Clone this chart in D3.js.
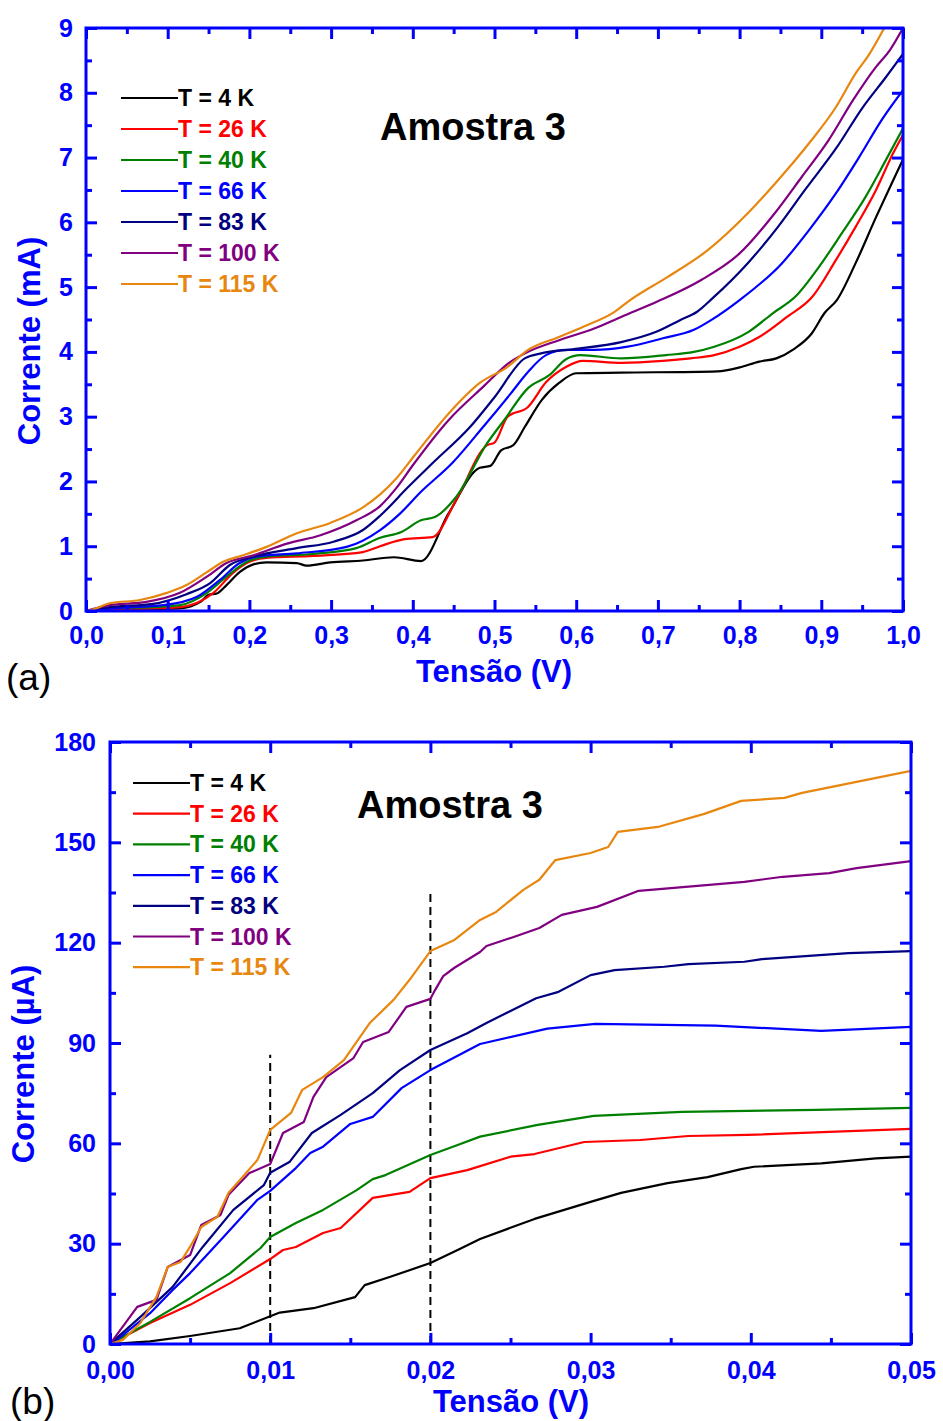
<!DOCTYPE html>
<html><head><meta charset="utf-8">
<script src="https://cdn.jsdelivr.net/npm/d3@7"></script>
<style>
body{margin:0;background:#fff}
svg{display:block}
text{font-family:"Liberation Sans",Arial,Helvetica,sans-serif}
</style>
</head><body>
<svg id="chart" width="943" height="1421"></svg>
<script>
// ---------------- DATA ----------------
const seriesLabels = ["T = 4 K","T = 26 K","T = 40 K","T = 66 K","T = 83 K","T = 100 K","T = 115 K"];
const seriesColors = ["#000000","#ff0000","#008000","#0000ff","#000080","#800080","#e8870f"];

// Panel (a): [Tensão (V), Corrente (mA)]
const a4K = [[0,0],[0.02,0.01],[0.06,0.02],[0.115,0.04],[0.14,0.14],[0.15,0.25],[0.16,0.27],[0.172,0.40],[0.188,0.6],[0.205,0.72],[0.221,0.75],[0.258,0.74],[0.27,0.70],[0.299,0.75],[0.339,0.78],[0.377,0.83],[0.41,0.77],[0.444,1.51],[0.482,2.21],[0.495,2.24],[0.508,2.48],[0.523,2.56],[0.537,2.84],[0.558,3.26],[0.579,3.52],[0.60,3.67],[0.655,3.68],[0.773,3.70],[0.80,3.76],[0.824,3.85],[0.845,3.90],[0.866,4.04],[0.888,4.28],[0.904,4.6],[0.919,4.8],[0.942,5.37],[0.967,6.08],[0.988,6.65],[1.0,6.97]];
const a26K = [[0,0],[0.03,0.03],[0.08,0.04],[0.115,0.06],[0.156,0.28],[0.18,0.59],[0.2,0.76],[0.221,0.82],[0.278,0.85],[0.339,0.91],[0.36,1.0],[0.39,1.11],[0.424,1.14],[0.453,1.71],[0.491,2.56],[0.50,2.6],[0.516,3.0],[0.541,3.15],[0.563,3.53],[0.588,3.77],[0.608,3.86],[0.655,3.83],[0.706,3.86],[0.74,3.9],[0.769,3.95],[0.80,4.08],[0.824,4.23],[0.858,4.54],[0.889,4.85],[0.918,5.42],[0.942,5.93],[0.967,6.5],[0.988,7.07],[1.0,7.35]];
const a40K = [[0,0],[0.03,0.04],[0.08,0.06],[0.115,0.09],[0.148,0.28],[0.172,0.53],[0.197,0.76],[0.221,0.84],[0.278,0.88],[0.331,0.97],[0.36,1.13],[0.386,1.22],[0.41,1.4],[0.427,1.45],[0.453,1.76],[0.491,2.59],[0.512,2.95],[0.541,3.44],[0.567,3.64],[0.588,3.89],[0.605,3.95],[0.655,3.9],[0.71,3.95],[0.744,4.0],[0.769,4.08],[0.811,4.31],[0.841,4.6],[0.868,4.85],[0.897,5.31],[0.925,5.83],[0.954,6.39],[0.979,6.96],[1.0,7.45]];
const a66K = [[0,0],[0.029,0.04],[0.095,0.09],[0.136,0.22],[0.164,0.48],[0.188,0.74],[0.209,0.84],[0.258,0.89],[0.319,0.99],[0.36,1.25],[0.384,1.5],[0.41,1.84],[0.448,2.28],[0.486,2.84],[0.52,3.36],[0.541,3.69],[0.563,3.95],[0.588,4.03],[0.622,4.03],[0.663,4.08],[0.706,4.21],[0.744,4.34],[0.765,4.49],[0.80,4.8],[0.852,5.37],[0.885,5.88],[0.918,6.45],[0.946,7.0],[0.975,7.6],[1.0,8.04]];
const a83K = [[0,0],[0.029,0.06],[0.082,0.11],[0.123,0.26],[0.152,0.43],[0.176,0.71],[0.205,0.84],[0.258,0.97],[0.303,1.07],[0.339,1.25],[0.36,1.47],[0.394,1.91],[0.424,2.28],[0.47,2.84],[0.50,3.3],[0.537,3.9],[0.558,3.98],[0.596,4.04],[0.655,4.15],[0.698,4.31],[0.727,4.49],[0.748,4.62],[0.767,4.83],[0.81,5.37],[0.847,5.93],[0.88,6.5],[0.918,7.14],[0.951,7.78],[0.979,8.24],[1.0,8.6]];
const a100K = [[0,0],[0.029,0.09],[0.074,0.14],[0.115,0.28],[0.148,0.53],[0.172,0.74],[0.205,0.86],[0.246,1.04],[0.287,1.17],[0.331,1.4],[0.36,1.62],[0.38,1.9],[0.40,2.25],[0.444,2.95],[0.486,3.46],[0.52,3.85],[0.541,4.0],[0.579,4.18],[0.622,4.36],[0.655,4.54],[0.70,4.78],[0.753,5.11],[0.80,5.52],[0.843,6.14],[0.876,6.70],[0.909,7.27],[0.939,7.89],[0.967,8.4],[0.984,8.66],[1.0,9.0]];
const a115K = [[0,0],[0.005,0.01],[0.029,0.12],[0.066,0.17],[0.099,0.28],[0.123,0.40],[0.148,0.6],[0.168,0.76],[0.192,0.86],[0.221,0.99],[0.258,1.2],[0.299,1.36],[0.339,1.6],[0.36,1.8],[0.38,2.05],[0.402,2.4],[0.444,3.05],[0.482,3.52],[0.516,3.77],[0.541,4.03],[0.579,4.23],[0.613,4.41],[0.646,4.61],[0.666,4.8],[0.711,5.15],[0.761,5.57],[0.81,6.14],[0.847,6.65],[0.885,7.22],[0.918,7.78],[0.942,8.3],[0.958,8.58],[0.977,9.0]];

// Panel (b): [Tensão (V), Corrente (µA)]
const b4K = [[0,0],[0.0025,0.8],[0.005,2.4],[0.0081,4.7],[0.010,8.3],[0.0106,9.4],[0.0127,10.7],[0.0153,14.0],[0.0159,17.6],[0.0175,20.1],[0.020,24.2],[0.0217,28.1],[0.0231,31.4],[0.0265,37.4],[0.030,42.5],[0.0319,45.2],[0.0348,48.1],[0.0373,49.9],[0.0394,52.3],[0.0402,53.0],[0.0444,54.0],[0.0478,55.5],[0.05,56.0]];
const b26K = [[0,0],[0.0025,6.3],[0.005,11.7],[0.0075,18.2],[0.010,25.4],[0.0108,28.1],[0.0116,29.0],[0.0133,33.2],[0.0144,34.7],[0.0164,43.7],[0.0187,45.5],[0.020,49.6],[0.0223,52.0],[0.025,56.0],[0.0265,56.8],[0.0296,60.4],[0.0331,61.0],[0.0361,62.2],[0.0398,62.5],[0.0449,63.4],[0.05,64.3]];
const b40K = [[0,0],[0.0025,6.6],[0.005,13.7],[0.0075,21.2],[0.0094,28.7],[0.010,32.0],[0.0116,36.2],[0.0133,40.1],[0.0154,46.0],[0.0164,49.3],[0.0172,50.5],[0.020,56.5],[0.0217,59.5],[0.0231,62.0],[0.0267,65.5],[0.0302,68.2],[0.0357,69.4],[0.0441,70.0],[0.05,70.6]];
const b66K = [[0,0],[0.0005,1.5],[0.0025,9.2],[0.0039,16.1],[0.005,21.2],[0.0071,32.1],[0.0092,43.1],[0.010,45.8],[0.0116,52.6],[0.0125,57.1],[0.0133,59.0],[0.015,65.8],[0.0164,67.9],[0.0182,76.5],[0.020,81.9],[0.0231,89.7],[0.0273,94.3],[0.0303,95.7],[0.0378,95.2],[0.0444,93.6],[0.05,94.8]];
const b83K = [[0,0],[0.0019,8.1],[0.0039,17.0],[0.0058,29.1],[0.0077,40.1],[0.0096,47.5],[0.010,51.2],[0.0112,54.4],[0.0126,63.1],[0.0144,68.5],[0.0164,75.0],[0.0181,81.9],[0.020,87.9],[0.0223,92.9],[0.0235,96.0],[0.0266,103.4],[0.028,105.3],[0.030,110.3],[0.0315,111.8],[0.0346,112.8],[0.0361,113.6],[0.0396,114.3],[0.0407,115.1],[0.0461,116.9],[0.05,117.5]];
const b100K = [[0,0],[0.0017,11.1],[0.0029,13.2],[0.0036,23.0],[0.005,26.6],[0.0057,35.6],[0.0069,38.6],[0.0074,44.6],[0.0087,51.1],[0.010,53.8],[0.0108,63.1],[0.0121,66.4],[0.0127,73.9],[0.0135,79.8],[0.0152,85.5],[0.0158,90.3],[0.0174,93.3],[0.0185,100.8],[0.020,103.2],[0.0203,105.9],[0.0208,110.0],[0.0215,112.5],[0.0231,117.2],[0.0235,119.0],[0.0252,121.7],[0.0268,124.4],[0.0282,128.3],[0.0304,130.7],[0.033,135.5],[0.0396,138.2],[0.042,139.7],[0.0449,140.8],[0.0466,142.3],[0.05,144.4]];
const b115K = [[0,0],[0.0008,1.2],[0.0019,6.3],[0.0029,14.1],[0.0036,23.0],[0.0044,24.5],[0.005,29.1],[0.0057,35.0],[0.0067,38.0],[0.0074,45.2],[0.0081,49.0],[0.0092,55.0],[0.010,64.0],[0.0113,69.1],[0.012,76.0],[0.0133,79.8],[0.0146,84.9],[0.0162,95.9],[0.0177,102.9],[0.0187,108.9],[0.020,117.5],[0.0215,120.8],[0.0231,126.8],[0.0241,129.2],[0.0258,135.8],[0.0268,138.8],[0.0278,144.7],[0.030,146.8],[0.0311,148.6],[0.0317,153.1],[0.0342,154.6],[0.0371,158.5],[0.0394,162.4],[0.0421,163.3],[0.0432,164.8],[0.0466,168.1],[0.05,171.4]];

// dashed marker lines in (b): x position (V) and top (µA)
const dashV = [0.01, 0.02];
const dashTop = [86.5, 135];

// Ticks
const aXTicks = [0,0.1,0.2,0.3,0.4,0.5,0.6,0.7,0.8,0.9,1.0];
const aXMinor = [0.05,0.15,0.25,0.35,0.45,0.55,0.65,0.75,0.85,0.95];
const aYTicks = [0,1,2,3,4,5,6,7,8,9];
const aYMinor = [0.5,1.5,2.5,3.5,4.5,5.5,6.5,7.5,8.5];
const bXTicks = [0,0.01,0.02,0.03,0.04,0.05];
const bXMinor = [0.005,0.015,0.025,0.035,0.045];
const bYTicks = [0,30,60,90,120,150,180];
const bYMinor = [15,45,75,105,135,165];

// ---------------- DRAW ----------------
const svg = d3.select("#chart");
svg.append("rect").attr("width",943).attr("height",1421).attr("fill","#fff");
const BLUE = "#0000ff";
const ptBR = d3.formatLocale({decimal:",",thousands:".",grouping:[3],currency:["",""]});

function panel(cfg){
  const g = svg.append("g");
  const x = d3.scaleLinear().domain(cfg.xDomain).range([cfg.left,cfg.right]);
  const y = d3.scaleLinear().domain(cfg.yDomain).range([cfg.bottom,cfg.top]);

  const clipId = "clip"+cfg.id;
  svg.append("defs").append("clipPath").attr("id",clipId)
    .append("rect").attr("x",cfg.left).attr("y",cfg.top)
    .attr("width",cfg.right-cfg.left).attr("height",cfg.bottom-cfg.top);

  if(cfg.dashes){
    cfg.dashes.v.forEach((v,i)=>{
      g.append("line").attr("x1",x(v)).attr("x2",x(v))
        .attr("y1",y(0)).attr("y2",y(cfg.dashes.top[i]))
        .attr("stroke","#000").attr("stroke-width",2).attr("stroke-dasharray","8,5");
    });
  }

  const line = d3.line().x(d=>x(d[0])).y(d=>y(d[1])).curve(cfg.curve);
  const lg = g.append("g").attr("clip-path",`url(#${clipId})`);
  cfg.series.forEach((s,i)=>{
    lg.append("path").datum(s).attr("d",line).attr("fill","none")
      .attr("stroke",seriesColors[i]).attr("stroke-width",2.2)
      .attr("stroke-linejoin","round");
  });

  function styleAxis(sel){
    sel.select(".domain").remove();
    sel.selectAll(".tick line").attr("stroke",BLUE).attr("stroke-width",3);
    sel.selectAll(".tick text").attr("fill",BLUE).attr("font-size",25).attr("font-weight","bold")
      .attr("font-family","'Liberation Sans',Arial,sans-serif");
  }
  g.append("g").attr("transform",`translate(0,${cfg.bottom})`)
    .call(d3.axisBottom(x).tickValues(cfg.xTicks).tickSize(-11).tickSizeOuter(0).tickPadding(cfg.xPad).tickFormat(cfg.xFmt)).call(styleAxis);
  g.append("g").attr("transform",`translate(0,${cfg.bottom})`)
    .call(d3.axisBottom(x).tickValues(cfg.xMinor).tickSize(-6).tickSizeOuter(0).tickFormat("")).call(styleAxis);
  g.append("g").attr("transform",`translate(0,${cfg.top})`)
    .call(d3.axisTop(x).tickValues(cfg.xTicks).tickSize(-11).tickSizeOuter(0).tickFormat("")).call(styleAxis);
  g.append("g").attr("transform",`translate(0,${cfg.top})`)
    .call(d3.axisTop(x).tickValues(cfg.xMinor).tickSize(-6).tickSizeOuter(0).tickFormat("")).call(styleAxis);
  g.append("g").attr("transform",`translate(${cfg.left},0)`)
    .call(d3.axisLeft(y).tickValues(cfg.yTicks).tickSize(-11).tickSizeOuter(0).tickPadding(cfg.yPad).tickFormat(d3.format("d"))).call(styleAxis);
  g.append("g").attr("transform",`translate(${cfg.left},0)`)
    .call(d3.axisLeft(y).tickValues(cfg.yMinor).tickSize(-6).tickSizeOuter(0).tickFormat("")).call(styleAxis);
  g.append("g").attr("transform",`translate(${cfg.right},0)`)
    .call(d3.axisRight(y).tickValues(cfg.yTicks).tickSize(-11).tickSizeOuter(0).tickFormat("")).call(styleAxis);
  g.append("g").attr("transform",`translate(${cfg.right},0)`)
    .call(d3.axisRight(y).tickValues(cfg.yMinor).tickSize(-6).tickSizeOuter(0).tickFormat("")).call(styleAxis);

  g.append("rect").attr("x",cfg.left).attr("y",cfg.top)
    .attr("width",cfg.right-cfg.left).attr("height",cfg.bottom-cfg.top)
    .attr("fill","none").attr("stroke",BLUE).attr("stroke-width",3);

  g.append("text").attr("x",cfg.xTitle[0]).attr("y",cfg.xTitle[1]).attr("text-anchor","middle")
    .attr("font-size",31).attr("font-weight","bold").attr("fill",BLUE).text("Tensão (V)");
  g.append("text").attr("transform",`translate(${cfg.yTitle[0]},${cfg.yTitle[1]}) rotate(-90)`)
    .attr("text-anchor","middle").attr("dominant-baseline","central")
    .attr("font-size",31).attr("font-weight","bold").attr("fill",BLUE).text(cfg.yTitleText);

  g.append("text").attr("x",cfg.letter[0]).attr("y",cfg.letter[1])
    .attr("font-size",37).attr("fill","#000").text(cfg.letterText);

  g.append("text").attr("x",cfg.title[0]).attr("y",cfg.title[1])
    .attr("font-size",38).attr("font-weight","bold").attr("fill","#000").text("Amostra 3");

  seriesLabels.forEach((lab,i)=>{
    const yy = cfg.legend.y0 + i*cfg.legend.dy;
    g.append("line").attr("x1",cfg.legend.x1).attr("x2",cfg.legend.x2)
      .attr("y1",yy).attr("y2",yy).attr("stroke",seriesColors[i]).attr("stroke-width",2.2);
    g.append("text").attr("x",cfg.legend.x2).attr("y",yy).attr("dominant-baseline","central")
      .attr("font-size",23).attr("font-weight","bold").attr("fill",seriesColors[i]).text(lab);
  });
}

panel({
  id:"a", xDomain:[0,1], yDomain:[0,9],
  left:86, right:903, top:28, bottom:611,
  series:[a4K,a26K,a40K,a66K,a83K,a100K,a115K],
  curve:d3.curveMonotoneX,
  xTicks:aXTicks, xMinor:aXMinor, yTicks:aYTicks, yMinor:aYMinor,
  xFmt:ptBR.format(".1f"), xPad:15, yPad:13,
  xTitle:[494,682], yTitle:[29,341], yTitleText:"Corrente (mA)",
  letter:[6,690], letterText:"(a)",
  title:[380,140],
  legend:{x1:121,x2:178,y0:98,dy:31}
});

panel({
  id:"b", xDomain:[0,0.05], yDomain:[0,180],
  left:110, right:911, top:742, bottom:1344,
  series:[b4K,b26K,b40K,b66K,b83K,b100K,b115K],
  curve:d3.curveLinear,
  xTicks:bXTicks, xMinor:bXMinor, yTicks:bYTicks, yMinor:bYMinor,
  xFmt:ptBR.format(".2f"), xPad:17, yPad:14,
  xTitle:[511,1412], yTitle:[23,1064], yTitleText:"Corrente (µA)",
  letter:[10,1414], letterText:"(b)",
  title:[357,818],
  legend:{x1:133,x2:190,y0:783,dy:30.7},
  dashes:{v:dashV, top:dashTop}
});
</script>
</body></html>
